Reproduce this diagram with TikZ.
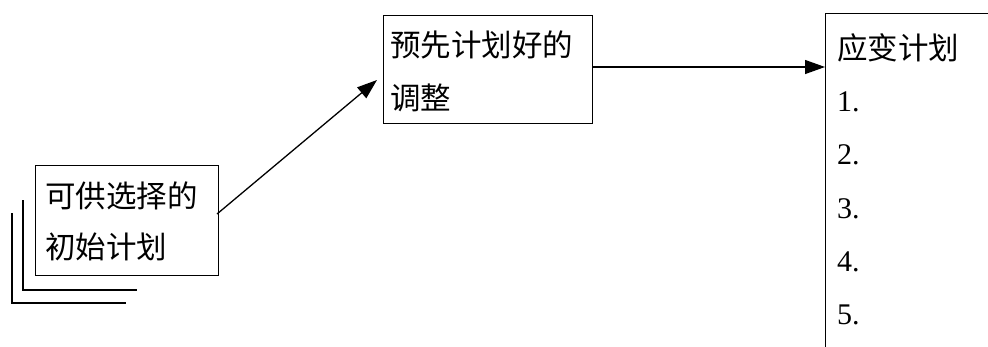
\documentclass[tikz,border=0pt]{standalone}
\usepackage{fontspec}
\setmainfont{Liberation Serif}
\newfontfamily\cjk{Noto Sans CJK SC}
\usetikzlibrary{arrows.meta}
\begin{document}
\begin{tikzpicture}[x=1pt,y=-1pt,
  box/.style={draw,line width=1.3pt,rectangle,inner sep=0pt,anchor=north west},
  lbl/.style={anchor=west,inner sep=0pt,font=\cjk\fontsize{30.5}{30.5}\selectfont},
  num/.style={anchor=west,inner sep=0pt,font=\fontsize{30}{30}\selectfont},
  arr/.style={line width=1.3pt,-{Triangle[length=20pt,width=14pt]}},
  stack/.style={line width=1.3pt}]
\useasboundingbox (0,0) rectangle (988,346);
\clip (0,0) rectangle (988,346);
% left box with stack
\node[box,minimum width=183pt,minimum height=110pt] (init) at (35,165) {};
\coordinate (s1a) at (23,200);
\coordinate (s1b) at (23,290);
\coordinate (s1c) at (137,290);
\coordinate (s2a) at (12,213);
\coordinate (s2b) at (12,303);
\coordinate (s2c) at (126,303);
\draw[stack] (s1a) -- (s1b) -- (s1c);
\draw[stack] (s2a) -- (s2b) -- (s2c);
\node[lbl] (t1) at (45,196) {可供选择的};
\node[lbl] (t2) at (45,247) {初始计划};
% middle box
\node[box,minimum width=209pt,minimum height=108pt] (adj) at (383,15) {};
\node[lbl] (t3) at (390,45) {预先计划好的};
\node[lbl] (t4) at (390,98) {调整};
% right box
\node[box,minimum width=200pt,minimum height=360pt] (cont) at (825,13) {};
\node[lbl] (t5) at (837,48) {应变计划};
\node[num] (n1) at (837,102) {1.};
\node[num] (n2) at (837,155) {2.};
\node[num] (n3) at (837,209) {3.};
\node[num] (n4) at (837,262) {4.};
\node[num] (n5) at (837,315) {5.};
% arrows
\coordinate (a1s) at (217,214);
\coordinate (a1e) at (377,80);
\draw[arr] (a1s) -- (a1e);
\draw[arr] (adj.east |- 0,67) -- (cont.west |- 0,67);
\end{tikzpicture}
\end{document}
